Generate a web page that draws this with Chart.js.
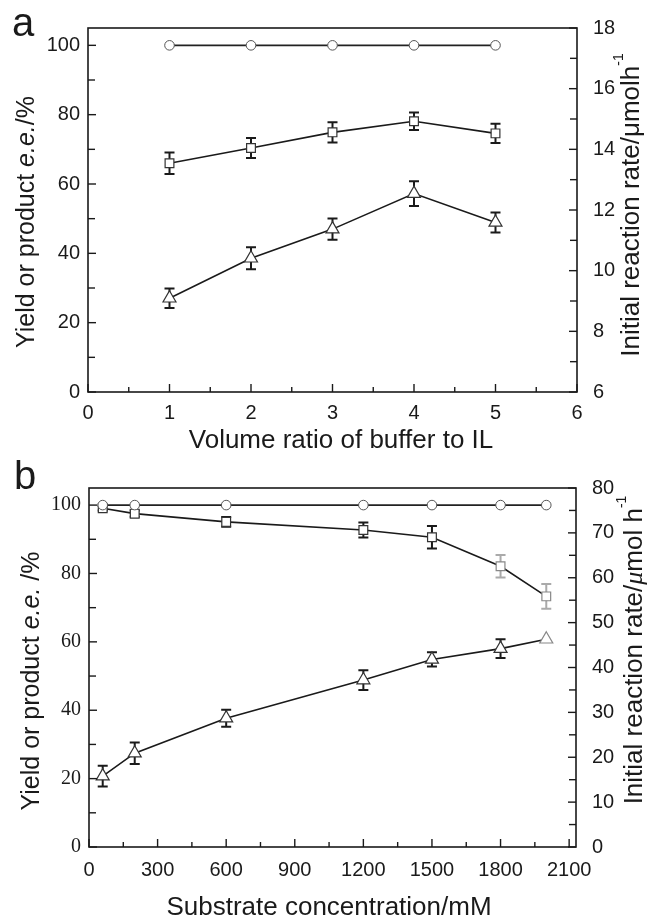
<!DOCTYPE html>
<html>
<head>
<meta charset="utf-8">
<script src="https://cdn.jsdelivr.net/npm/chart.js@4/dist/chart.umd.min.js"></script>
<style>
  body { margin: 0; background: #fff; }
  .box { width: 648px; }
</style>
</head>
<body>
<div class="box" style="height:460px"><canvas id="chartA" width="648" height="460"></canvas></div>
<div class="box" style="height:461px"><canvas id="chartB" width="648" height="461"></canvas></div>
<script>
// ---- panel a: volume ratio of buffer to IL ----
const ratioA = [1, 2, 3, 4, 5];
const eeA = [100, 100, 100, 100, 100];
const yieldA = [66.0, 70.4, 74.9, 78.1, 74.6];
const yieldErrA = [3.1, 2.9, 2.9, 2.5, 2.8];
const rateA = [9.09, 10.41, 11.37, 12.54, 11.59];
const rateErrA = [0.32, 0.36, 0.35, 0.41, 0.33];
const xTicksA = [0, 1, 2, 3, 4, 5, 6];
const leftTicksA = [0, 20, 40, 60, 80, 100];
const rightTicksA = [6, 8, 10, 12, 14, 16, 18];

// ---- panel b: substrate concentration ----
const concB = [60, 200, 600, 1200, 1500, 1800, 2000];
const eeB = [100, 100, 100, 100, 100, 100, 100];
const yieldB = [99.1, 97.5, 95.1, 92.7, 90.6, 82.1, 73.3];
const yieldErrB = [0.7, 0.9, 1.4, 2.2, 3.3, 3.3, 3.6];
const rateB = [15.8, 20.9, 28.7, 37.2, 41.8, 44.2, 46.3];
const rateErrB = [2.3, 2.4, 1.9, 2.2, 1.6, 2.1, 0];
const xTicksB = [0, 300, 600, 900, 1200, 1500, 1800, 2100];
const leftTicksB = [0, 20, 40, 60, 80, 100];
const rightTicksB = [0, 10, 20, 30, 40, 50, 60, 70, 80];

const SANS = 'Liberation Sans, Arial, sans-serif';
const SERIF = 'Liberation Serif, Times New Roman, serif';
const INK = '#1a1a1a';

function pts(xs, ys) {
    return xs.map((x, i) => ({ x: x, y: ys[i] }));
}

// error bars drawn under the lines and markers
const errorBars = {
    id: 'errorBars',
    beforeDatasetsDraw(chart) {
        const ctx = chart.ctx;
        chart.data.datasets.forEach((ds, di) => {
            if (!ds.errors) return;
            const meta = chart.getDatasetMeta(di);
            const ys = chart.scales[ds.yAxisID];
            ctx.save();
            ctx.lineWidth = 2;
            meta.data.forEach((p, i) => {
                const e = ds.errors[i];
                if (!e) return;
                const v = ds.data[i].y;
                const t = ys.getPixelForValue(v + e);
                const b = ys.getPixelForValue(v - e);
                ctx.strokeStyle = Array.isArray(ds.errorColor) ? ds.errorColor[i] : INK;
                ctx.beginPath();
                ctx.moveTo(p.x, t); ctx.lineTo(p.x, b);
                ctx.moveTo(p.x - 5, t); ctx.lineTo(p.x + 5, t);
                ctx.moveTo(p.x - 5, b); ctx.lineTo(p.x + 5, b);
                ctx.stroke();
            });
            ctx.restore();
        });
    }
};

// closed frame with inward major/minor ticks
const axisFrame = {
    id: 'axisFrame',
    afterDraw(chart) {
        const ctx = chart.ctx, a = chart.chartArea;
        ctx.save();
        ctx.strokeStyle = INK;
        ctx.lineWidth = 1.6;
        ctx.strokeRect(a.left, a.top, a.right - a.left, a.bottom - a.top);
        ctx.lineWidth = 1.4;
        const mark = (scale, side) => {
            const vals = scale.ticks.map(t => t.value);
            const list = vals.map(v => [v, 8]);
            for (let i = 0; i < vals.length; i++) {
                const next = i + 1 < vals.length ? vals[i + 1] : vals[i] + (vals[1] - vals[0]);
                const mid = (vals[i] + next) / 2;
                if (mid < scale.max) list.push([mid, side === 'bottom' ? 5 : 7]);
            }
            list.forEach(([v, len]) => {
                const p = scale.getPixelForValue(v);
                ctx.beginPath();
                if (side === 'bottom') { ctx.moveTo(p, a.bottom); ctx.lineTo(p, a.bottom - len); }
                if (side === 'left') { ctx.moveTo(a.left, p); ctx.lineTo(a.left + len, p); }
                if (side === 'right') { ctx.moveTo(a.right, p); ctx.lineTo(a.right - len, p); }
                ctx.stroke();
            });
        };
        mark(chart.scales.x, 'bottom');
        mark(chart.scales.y, 'left');
        mark(chart.scales.y2, 'right');
        ctx.restore();
    }
};

// axis titles with italic / superscript parts, and the panel letter
function drawParts(ctx, parts, cx, cy, rotated) {
    ctx.save();
    ctx.translate(cx, cy);
    if (rotated) ctx.rotate(-Math.PI / 2);
    ctx.textBaseline = 'middle';
    ctx.textAlign = 'left';
    let w = 0;
    parts.forEach(p => { ctx.font = p.f; w += ctx.measureText(p.t).width; });
    let x = -w / 2;
    parts.forEach(p => {
        ctx.font = p.f;
        ctx.fillStyle = INK;
        ctx.fillText(p.t, x, p.dy || 0);
        x += ctx.measureText(p.t).width;
    });
    ctx.restore();
}

const panelText = {
    id: 'panelText',
    afterDraw(chart, args, o) {
        const ctx = chart.ctx;
        ctx.save();
        ctx.font = '40px ' + SANS;
        ctx.fillStyle = INK;
        ctx.textBaseline = 'alphabetic';
        ctx.fillText(o.letter, o.letterX, o.letterY);
        ctx.restore();
        drawParts(ctx, o.left, o.leftX, o.leftY, true);
        drawParts(ctx, o.right, o.rightX, o.rightY, true);
        drawParts(ctx, o.bottom, o.bottomX, o.bottomY, false);
    }
};

function makeChart(id, c) {
    const ctx = document.getElementById(id).getContext('2d');
    return new Chart(ctx, {
        type: 'line',
        data: {
            datasets: [
                {
                    data: pts(c.xs, c.ee), yAxisID: 'y',
                    borderColor: '#222', borderWidth: 1.8,
                    pointStyle: 'circle', pointRadius: 4.8,
                    pointBackgroundColor: '#fff', pointBorderColor: '#555', pointBorderWidth: 1
                },
                {
                    data: pts(c.xs, c.yld), yAxisID: 'y', errors: c.yldErr, errorColor: c.yldErrColor,
                    borderColor: INK, borderWidth: 1.6,
                    pointStyle: 'rect', pointRadius: 6.2,
                    pointBackgroundColor: '#fff', pointBorderColor: c.yldPt, pointBorderWidth: 1.2
                },
                {
                    data: pts(c.xs, c.rate), yAxisID: 'y2', errors: c.rateErr, errorColor: c.rateErrColor,
                    borderColor: INK, borderWidth: 1.6,
                    pointStyle: 'triangle', pointRadius: 7.5,
                    pointBackgroundColor: '#fff', pointBorderColor: c.ratePt, pointBorderWidth: 1.2
                }
            ]
        },
        options: {
            responsive: false,
            animation: false,
            layout: { padding: { top: c.top, left: 0, right: 0, bottom: 0 } },
            plugins: {
                legend: { display: false },
                tooltip: { enabled: false },
                panelText: c.text
            },
            scales: {
                x: {
                    type: 'linear', min: 0, max: c.xMax,
                    afterBuildTicks: s => { s.ticks = c.xTicks.map(v => ({ value: v })); },
                    afterFit: s => { s.height = c.xH; },
                    ticks: { padding: c.xPad, color: INK, font: { family: SANS, size: 20 }, callback: v => String(v) },
                    grid: { display: false, drawTicks: false },
                    border: { display: false }
                },
                y: {
                    position: 'left', min: 0, max: 105,
                    afterBuildTicks: s => { s.ticks = c.leftTicks.map(v => ({ value: v })); },
                    afterFit: s => { s.width = c.yW; },
                    ticks: { padding: 8, color: INK, font: { family: c.leftFont, size: 20 }, callback: v => String(v) },
                    grid: { display: false, drawTicks: false },
                    border: { display: false }
                },
                y2: {
                    position: 'right', min: c.rMin, max: c.rMax,
                    afterBuildTicks: s => { s.ticks = c.rightTicks.map(v => ({ value: v })); },
                    afterFit: s => { s.width = c.y2W; },
                    ticks: { padding: 16, color: INK, font: { family: SANS, size: 20 }, callback: v => String(v) },
                    grid: { display: false, drawTicks: false },
                    border: { display: false }
                }
            }
        },
        plugins: [errorBars, axisFrame, panelText]
    });
}

const TL = 25, TR = 26, TB = 26;
makeChart('chartA', {
    xs: ratioA, ee: eeA, yld: yieldA, yldErr: yieldErrA, rate: rateA, rateErr: rateErrA,
    yldPt: '#333', ratePt: '#333',
    xMax: 6, rMin: 6, rMax: 18,
    xTicks: xTicksA, leftTicks: leftTicksA, rightTicks: rightTicksA,
    leftFont: SANS, top: 27, xH: 68, yW: 88, y2W: 71, xPad: 9,
    text: {
        letter: 'a', letterX: 12, letterY: 36,
        left: [
            { t: 'Yield or product ', f: TL + 'px ' + SANS },
            { t: 'e.e.', f: 'italic ' + TL + 'px ' + SANS },
            { t: '/%', f: TL + 'px ' + SANS }
        ],
        leftX: 27, leftY: 222,
        right: [
            { t: 'Initial reaction rate/\u03bcmolh', f: TR + 'px ' + SANS },
            { t: '-1', f: '14px ' + SANS, dy: -13 }
        ],
        rightX: 632, rightY: 205,
        bottom: [{ t: 'Volume ratio of buffer to IL', f: TB + 'px ' + SANS }],
        bottomX: 341, bottomY: 441
    }
});

makeChart('chartB', {
    xs: concB, ee: eeB, yld: yieldB, yldErr: yieldErrB, rate: rateB, rateErr: rateErrB,
    yldPt: ['#333', '#333', '#333', '#333', '#333', '#888', '#888'],
    yldErrColor: [INK, INK, INK, INK, INK, '#aaa', '#aaa'],
    ratePt: ['#333', '#333', '#333', '#333', '#333', '#333', '#888'],
    rateErrColor: [INK, INK, INK, INK, INK, INK, INK],
    xMax: 2130, rMin: 0, rMax: 80,
    xTicks: xTicksB, leftTicks: leftTicksB, rightTicks: rightTicksB,
    leftFont: SERIF, top: 15, xH: 74, yW: 89, y2W: 72, xPad: 11,
    text: {
        letter: 'b', letterX: 14, letterY: 29,
        left: [
            { t: 'Yield or product ', f: TL + 'px ' + SANS },
            { t: 'e.e.', f: 'italic ' + TL + 'px ' + SANS },
            { t: ' /%', f: TL + 'px ' + SANS }
        ],
        leftX: 32, leftY: 221,
        right: [
            { t: 'Initial reaction rate/', f: TR + 'px ' + SANS },
            { t: '\u03bc', f: 'italic ' + TR + 'px ' + SERIF },
            { t: 'mol h', f: TR + 'px ' + SANS },
            { t: '-1', f: '14px ' + SANS, dy: -13 }
        ],
        rightX: 635, rightY: 190,
        bottom: [{ t: 'Substrate concentration/mM', f: TB + 'px ' + SANS }],
        bottomX: 329, bottomY: 448
    }
});
</script>
</body>
</html>
